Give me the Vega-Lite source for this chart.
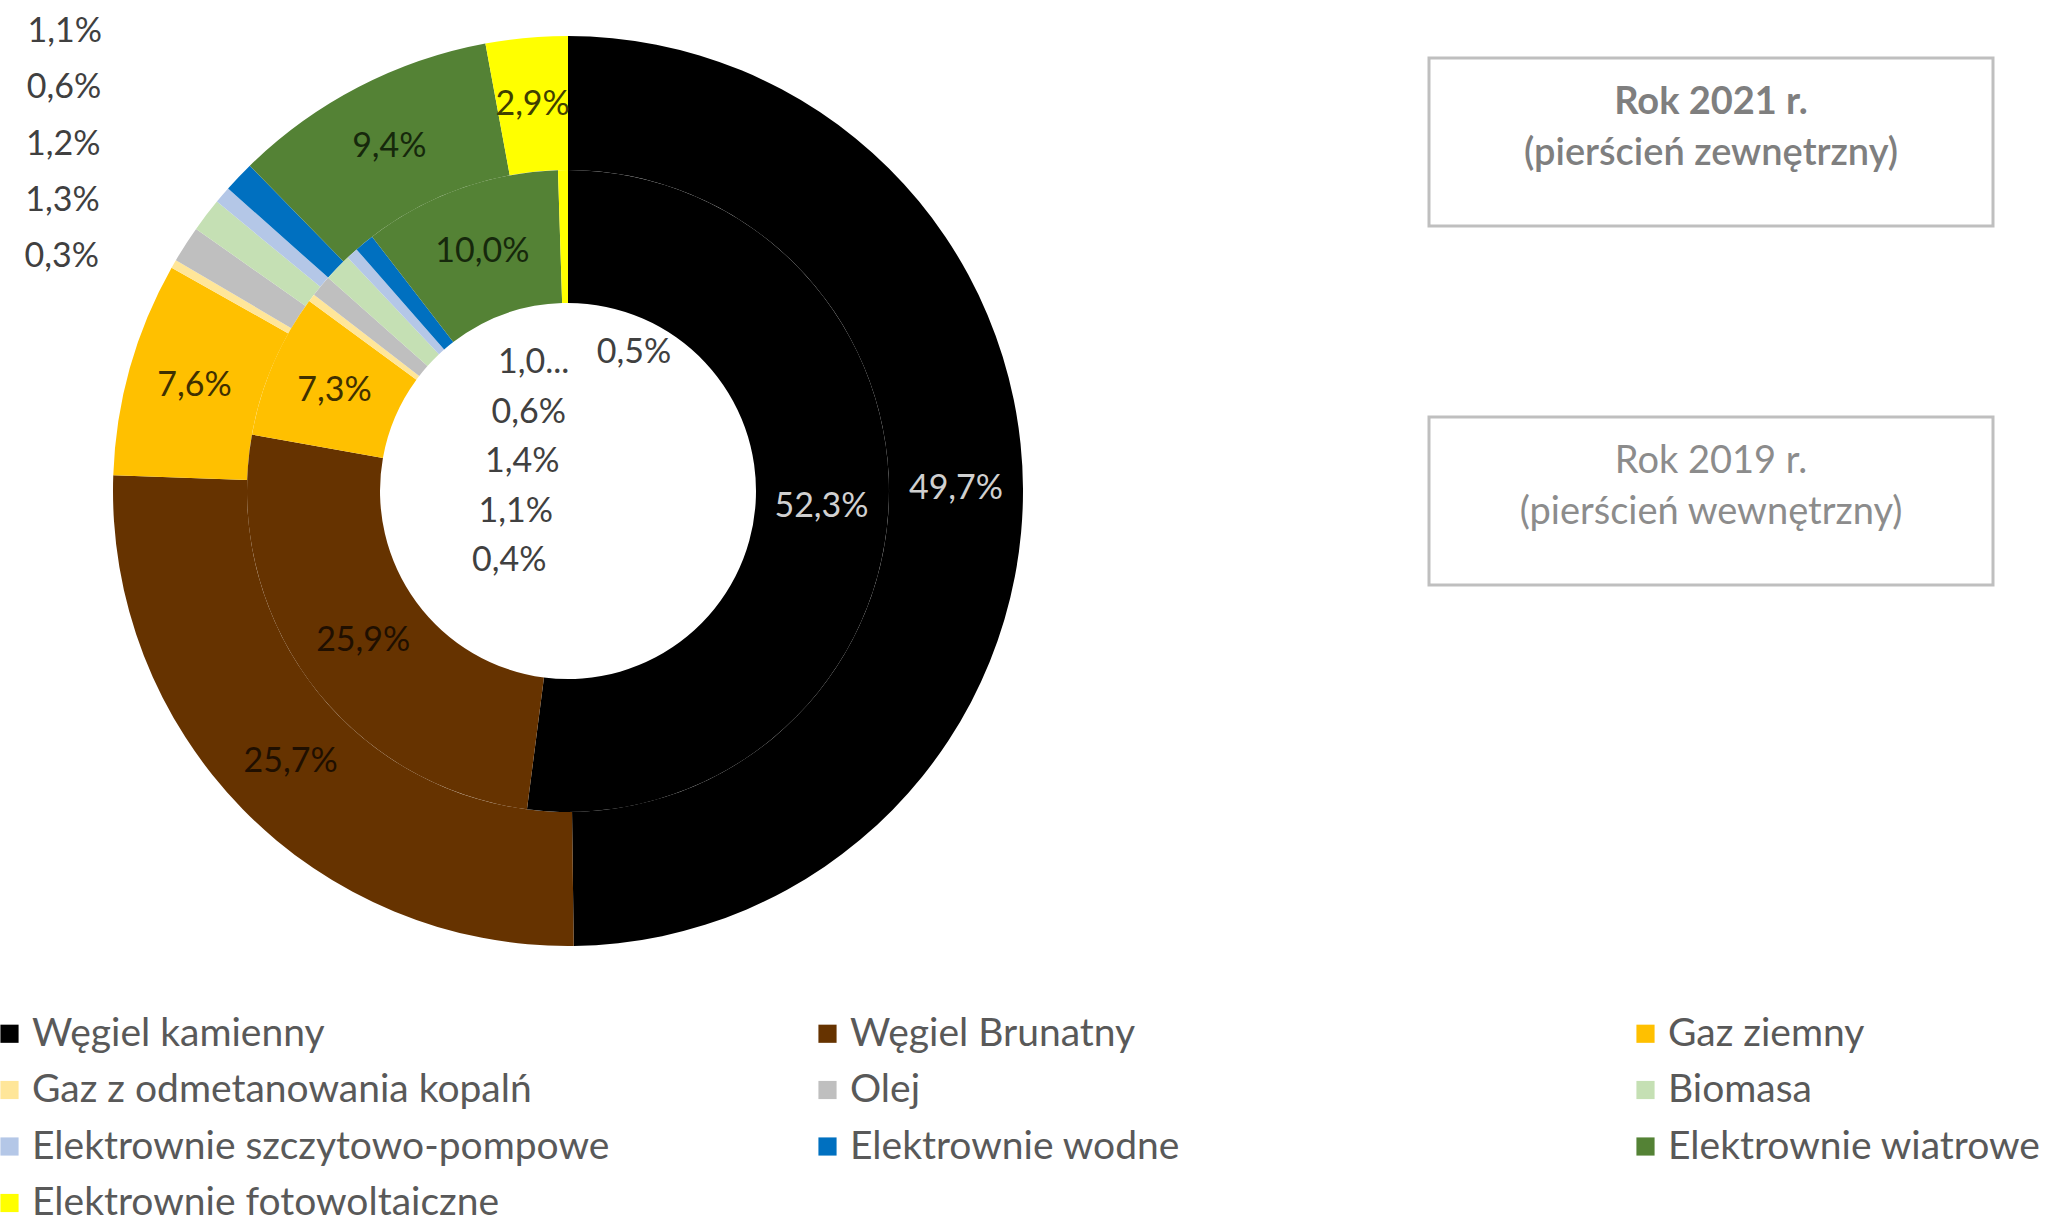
{
  "$schema": "https://vega.github.io/schema/vega-lite/v6.json",
  "padding": 0,
  "spacing": 291,
  "config": {"font": "Lato", "view": {"stroke": null}},
  "data": {"values": [
    {"year": "2021", "idx": 1, "source": "Węgiel kamienny", "value": 49.7, "label": "49,7%"},
    {"year": "2021", "idx": 2, "source": "Węgiel Brunatny", "value": 25.7, "label": "25,7%"},
    {"year": "2021", "idx": 3, "source": "Gaz ziemny", "value": 7.6, "label": "7,6%"},
    {"year": "2021", "idx": 4, "source": "Gaz z odmetanowania kopalń", "value": 0.3, "label": "0,3%"},
    {"year": "2021", "idx": 5, "source": "Olej", "value": 1.3, "label": "1,3%"},
    {"year": "2021", "idx": 6, "source": "Biomasa", "value": 1.2, "label": "1,2%"},
    {"year": "2021", "idx": 7, "source": "Elektrownie szczytowo-pompowe", "value": 0.6, "label": "0,6%"},
    {"year": "2021", "idx": 8, "source": "Elektrownie wodne", "value": 1.1, "label": "1,1%"},
    {"year": "2021", "idx": 9, "source": "Elektrownie wiatrowe", "value": 9.4, "label": "9,4%"},
    {"year": "2021", "idx": 10, "source": "Elektrownie fotowoltaiczne", "value": 2.9, "label": "2,9%"},
    {"year": "2019", "idx": 1, "source": "Węgiel kamienny", "value": 52.3, "label": "52,3%"},
    {"year": "2019", "idx": 2, "source": "Węgiel Brunatny", "value": 25.9, "label": "25,9%"},
    {"year": "2019", "idx": 3, "source": "Gaz ziemny", "value": 7.3, "label": "7,3%"},
    {"year": "2019", "idx": 4, "source": "Gaz z odmetanowania kopalń", "value": 0.4, "label": "0,4%"},
    {"year": "2019", "idx": 5, "source": "Olej", "value": 1.1, "label": "1,1%"},
    {"year": "2019", "idx": 6, "source": "Biomasa", "value": 1.4, "label": "1,4%"},
    {"year": "2019", "idx": 7, "source": "Elektrownie szczytowo-pompowe", "value": 0.6, "label": "0,6%"},
    {"year": "2019", "idx": 8, "source": "Elektrownie wodne", "value": 1.0, "label": "1,0..."},
    {"year": "2019", "idx": 9, "source": "Elektrownie wiatrowe", "value": 10.0, "label": "10,0%"},
    {"year": "2019", "idx": 10, "source": "Elektrownie fotowoltaiczne", "value": 0.5, "label": "0,5%"}
  ]},
  "hconcat": [
    {
      "width": 1136,
      "height": 982,
      "resolve": {"scale": {"theta": "independent", "x": "independent", "y": "independent"}},
      "layer": [
        {
          "transform": [{"filter": "datum.year === '2021'"}],
          "mark": {"type": "arc", "radius": 455, "radius2": 321},
          "encoding": {
            "theta": {"field": "value", "type": "quantitative", "stack": true},
            "order": {"field": "idx", "type": "quantitative"},
            "color": {
              "field": "source", "type": "nominal",
              "scale": {
                "domain": ["Węgiel kamienny", "Węgiel Brunatny", "Gaz ziemny", "Gaz z odmetanowania kopalń", "Olej", "Biomasa", "Elektrownie szczytowo-pompowe", "Elektrownie wodne", "Elektrownie wiatrowe", "Elektrownie fotowoltaiczne"],
                "range": ["#000000", "#663300", "#FFC000", "#FFE699", "#BFBFBF", "#C5E0B4", "#B4C7E7", "#0070C0", "#548235", "#FFFF00"]
              },
              "legend": {
                "orient": "bottom", "columns": 3, "title": null, "direction": "horizontal", "padding": 0,
                "symbolType": "square", "symbolSize": 330, "symbolStrokeWidth": 0, "symbolOffset": -10, "labelOffset": 3,
                "labelFontSize": 39, "labelColor": "#595959", "labelFont": "Lato", "labelLimit": 1000,
                "rowPadding": 16.5, "columnPadding": 208, "gridAlign": "all", "offset": 32
              }
            }
          }
        },
        {
          "transform": [{"filter": "datum.year === '2019'"}],
          "mark": {"type": "arc", "radius": 321, "radius2": 188},
          "encoding": {
            "theta": {"field": "value", "type": "quantitative", "stack": true},
            "order": {"field": "idx", "type": "quantitative"},
            "color": {"field": "source", "type": "nominal"}
          }
        },
        {
          "transform": [{"filter": "datum.year === '2021'"}],
          "mark": {"type": "text", "radius": 388, "fontSize": 34, "align": "center", "baseline": "middle"},
          "encoding": {
            "theta": {"field": "value", "type": "quantitative", "stack": true},
            "order": {"field": "idx", "type": "quantitative"},
            "text": {"field": "label", "condition": {"test": "datum.value < 2", "value": ""}},
            "color": {
              "condition": [
                {"test": "datum.source === 'Węgiel kamienny'", "value": "#D0D0D0"},
                {"test": "datum.source === 'Węgiel Brunatny'", "value": "#1F0F00"},
                {"test": "datum.source === 'Gaz ziemny'", "value": "#3F3000"},
                {"test": "datum.source === 'Elektrownie wiatrowe'", "value": "#16280C"}
              ],
              "value": "#404000"
            }
          }
        },
        {
          "transform": [{"filter": "datum.year === '2019'"}],
          "mark": {"type": "text", "radius": 254, "fontSize": 34, "align": "center", "baseline": "middle"},
          "encoding": {
            "theta": {"field": "value", "type": "quantitative", "stack": true},
            "order": {"field": "idx", "type": "quantitative"},
            "text": {"field": "label", "condition": {"test": "datum.value < 2", "value": ""}},
            "color": {
              "condition": [
                {"test": "datum.source === 'Węgiel kamienny'", "value": "#D0D0D0"},
                {"test": "datum.source === 'Węgiel Brunatny'", "value": "#1F0F00"},
                {"test": "datum.source === 'Gaz ziemny'", "value": "#3F3000"},
                {"test": "datum.source === 'Elektrownie wiatrowe'", "value": "#16280C"}
              ],
              "value": "#404000"
            }
          }
        },
        {
          "transform": [{"filter": "datum.year === '2019'"}],
          "mark": {"type": "text", "radius": 138, "fontSize": 34, "align": "left", "baseline": "middle", "dx": 31, "color": "#404040"},
          "encoding": {
            "theta": {"field": "value", "type": "quantitative", "stack": true},
            "order": {"field": "idx", "type": "quantitative"},
            "text": {"field": "label", "condition": {"test": "datum.source !== 'Elektrownie fotowoltaiczne'", "value": ""}}
          }
        },
        {
          "transform": [{"filter": "datum.year === '2021' && datum.value < 2"}],
          "mark": {"type": "text", "fontSize": 34, "align": "right", "baseline": "middle", "color": "#404040"},
          "encoding": {
            "y": {"field": "source", "type": "nominal", "axis": null,
              "scale": {"type": "point", "padding": 0, "domain": ["Elektrownie wodne", "Elektrownie szczytowo-pompowe", "Biomasa", "Olej", "Gaz z odmetanowania kopalń"], "range": [32, 257]}},
            "x": {"field": "source", "type": "nominal", "axis": null,
              "scale": {"type": "point", "padding": 0, "domain": ["Elektrownie wodne", "Elektrownie szczytowo-pompowe", "Biomasa", "Olej", "Gaz z odmetanowania kopalń"], "range": [102, 99]}},
            "text": {"field": "label"}
          }
        },
        {
          "transform": [{"filter": "datum.year === '2019' && datum.value < 2 && datum.source !== 'Elektrownie fotowoltaiczne'"}],
          "mark": {"type": "text", "fontSize": 34, "align": "left", "baseline": "middle", "color": "#404040"},
          "encoding": {
            "y": {"field": "source", "type": "nominal", "axis": null,
              "scale": {"type": "point", "padding": 0, "domain": ["Elektrownie wodne", "Elektrownie szczytowo-pompowe", "Biomasa", "Olej", "Gaz z odmetanowania kopalń"], "range": [363, 561]}},
            "x": {"field": "source", "type": "nominal", "axis": null,
              "scale": {"type": "point", "padding": 0, "domain": ["Elektrownie wodne", "Elektrownie szczytowo-pompowe", "Biomasa", "Olej", "Gaz z odmetanowania kopalń"], "range": [498, 472]}},
            "text": {"field": "label"}
          }
        }
      ]
    },
    {
      "width": 564,
      "height": 643,
      "data": {"values": [
        {"year": "2021", "title": "Rok 2021 r.", "subtitle": "(pierścień zewnętrzny)"},
        {"year": "2019", "title": "Rok 2019 r.", "subtitle": "(pierścień wewnętrzny)"}
      ]},
      "layer": [
        {
          "mark": {"type": "rect", "fill": "#FFFFFF", "stroke": "#BFBFBF", "strokeWidth": 3},
          "encoding": {
            "y": {"field": "year", "type": "nominal", "axis": null,
              "scale": {"type": "band", "domain": ["2021", "2019"], "paddingInner": 0.532, "paddingOuter": 0.1616}}
          }
        },
        {
          "transform": [{"filter": "datum.year === '2021'"}],
          "mark": {"type": "text", "fontSize": 38, "fontWeight": "bold", "color": "#7F7F7F", "dy": -39, "baseline": "middle"},
          "encoding": {
            "y": {"field": "year", "type": "nominal", "axis": null,
              "scale": {"type": "band", "domain": ["2021", "2019"], "paddingInner": 0.532, "paddingOuter": 0.1616}},
            "text": {"field": "title"}
          }
        },
        {
          "transform": [{"filter": "datum.year === '2021'"}],
          "mark": {"type": "text", "fontSize": 38, "fontWeight": 600, "color": "#7F7F7F", "dy": 12, "baseline": "middle"},
          "encoding": {
            "y": {"field": "year", "type": "nominal", "axis": null,
              "scale": {"type": "band", "domain": ["2021", "2019"], "paddingInner": 0.532, "paddingOuter": 0.1616}},
            "text": {"field": "subtitle"}
          }
        },
        {
          "transform": [{"filter": "datum.year === '2019'"}],
          "mark": {"type": "text", "fontSize": 38, "color": "#8C8C8C", "dy": -39, "baseline": "middle"},
          "encoding": {
            "y": {"field": "year", "type": "nominal", "axis": null,
              "scale": {"type": "band", "domain": ["2021", "2019"], "paddingInner": 0.532, "paddingOuter": 0.1616}},
            "text": {"field": "title"}
          }
        },
        {
          "transform": [{"filter": "datum.year === '2019'"}],
          "mark": {"type": "text", "fontSize": 38, "color": "#8C8C8C", "dy": 12, "baseline": "middle"},
          "encoding": {
            "y": {"field": "year", "type": "nominal", "axis": null,
              "scale": {"type": "band", "domain": ["2021", "2019"], "paddingInner": 0.532, "paddingOuter": 0.1616}},
            "text": {"field": "subtitle"}
          }
        }
      ]
    }
  ]
}
